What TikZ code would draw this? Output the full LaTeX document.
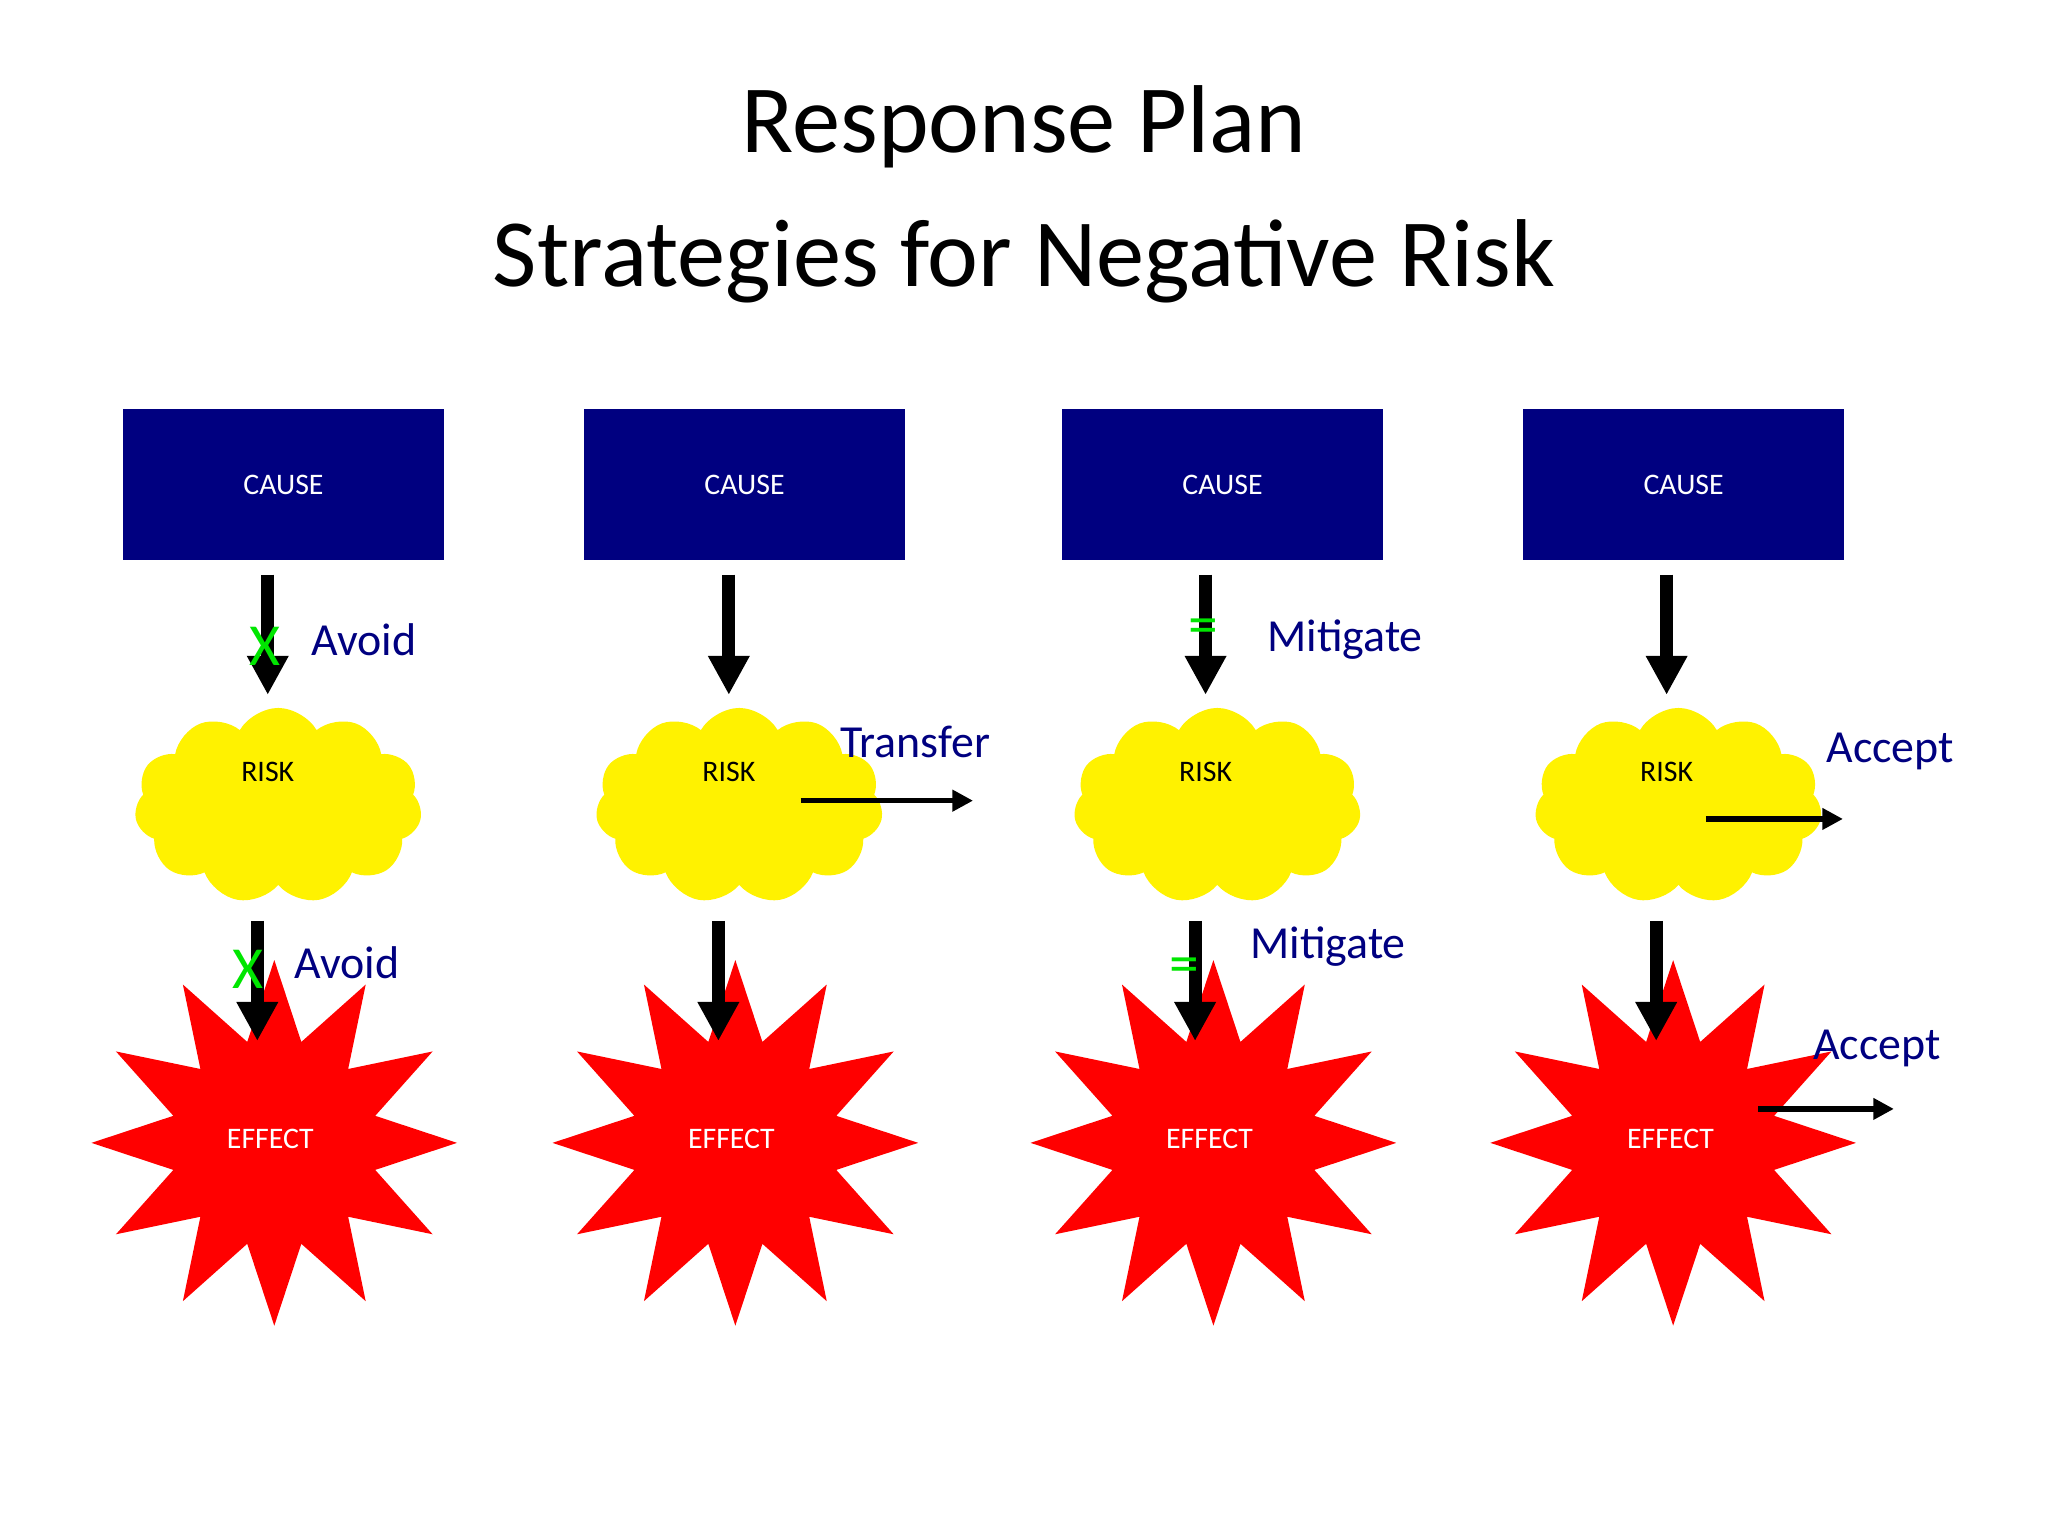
\documentclass[tikz,border=0pt]{standalone}
\usepackage{fontspec}
\setmainfont{Carlito}
\usetikzlibrary{shapes.symbols,shapes.geometric,arrows.meta}
\definecolor{navy}{RGB}{0,0,128}
\definecolor{grn}{RGB}{0,230,0}
\begin{document}
\begin{tikzpicture}[x=0.02cm,y=-0.02cm,
 cause/.style={fill=navy,minimum width=4.92cm,minimum height=2.32cm,text=white,font=\fontsize{13}{15}\selectfont,inner sep=0},
 risk/.style={cloud,cloud puffs=11,cloud puff arc=120,aspect=1.5,fill=yellow,minimum width=4.4cm,minimum height=3cm,inner sep=0},
 effect/.style={star,star points=12,star point ratio=1.75,fill=red,minimum size=5.6cm,inner sep=0},
 lbl/.style={text=navy,font=\fontsize{20}{24}\selectfont,anchor=west,inner sep=0},
 small/.style={font=\fontsize{13}{15}\selectfont,inner sep=0},
 big/.style={line width=5.7pt,-{Triangle[width=17pt,length=17pt]}},
 thin/.style={line width=2.3pt,-{Triangle[width=9pt,length=9pt]}},
 gmark/.style={text=grn,font=\fontsize{26}{30}\selectfont,inner sep=0}]
\useasboundingbox (0,0) rectangle (1568,1176);
\node[font=\fontsize{42}{50}\selectfont] (t1) at (784,97) {Response Plan};
\node[font=\fontsize{42}{50}\selectfont] (t2) at (784,200) {Strategies for Negative Risk};
\foreach \i/\cx/\rx/\ex in {1/217/213/210,2/570/566/563,3/936/932/929,4/1289/1285/1281}{
 \node[cause] (c\i) at (\cx,371) {CAUSE};
 \node[risk] (r\i) at (\rx,617) {};
 \node[effect] (e\i) at (\ex,875) {};
}
\foreach \i/\x in {1/205,2/558,3/923,4/1276}{
 \coordinate (a\i) at (\x,440); \coordinate (b\i) at (\x,532);
 \draw[big] (a\i) -- (b\i);
 \node[small] (rl\i) at (\x,591) {RISK};
}
\foreach \i/\x in {1/197,2/550,3/915,4/1268}{
 \coordinate (p\i) at (\x,705); \coordinate (q\i) at (\x,797);
 \draw[big] (p\i) -- (q\i);
}
\foreach \i/\x in {1/207,2/560,3/926,4/1279}{
 \node[small,text=white] (el\i) at (\x,872) {EFFECT};
}
\node[gmark] (x1) at (203,495) {X};
\node[lbl] (av1) at (238,490) {Avoid};
\node[gmark] (x2) at (190,742) {X};
\node[lbl] (av2) at (225,737) {Avoid};
\node[lbl] (tr) at (643,568) {Transfer};
\coordinate (t0) at (613,613); \coordinate (t9) at (745,613);
\draw[thin] (t0) -- (t9);
\node[gmark] (m1) at (921,484) {=};
\node[lbl] (mi1) at (970,490) {Mitigate};
\node[gmark] (m2) at (907,743) {=};
\node[lbl] (mi2) at (957,725) {Mitigate};
\node[lbl] (ac1) at (1398,575) {Accept};
\coordinate (u0) at (1306,627); \coordinate (u9) at (1411,627);
\draw[thin] (u0) -- (u9);
\node[lbl] (ac2) at (1388,803) {Accept};
\coordinate (v0) at (1346,849); \coordinate (v9) at (1450,849);
\draw[thin] (v0) -- (v9);
\end{tikzpicture}
\end{document}
